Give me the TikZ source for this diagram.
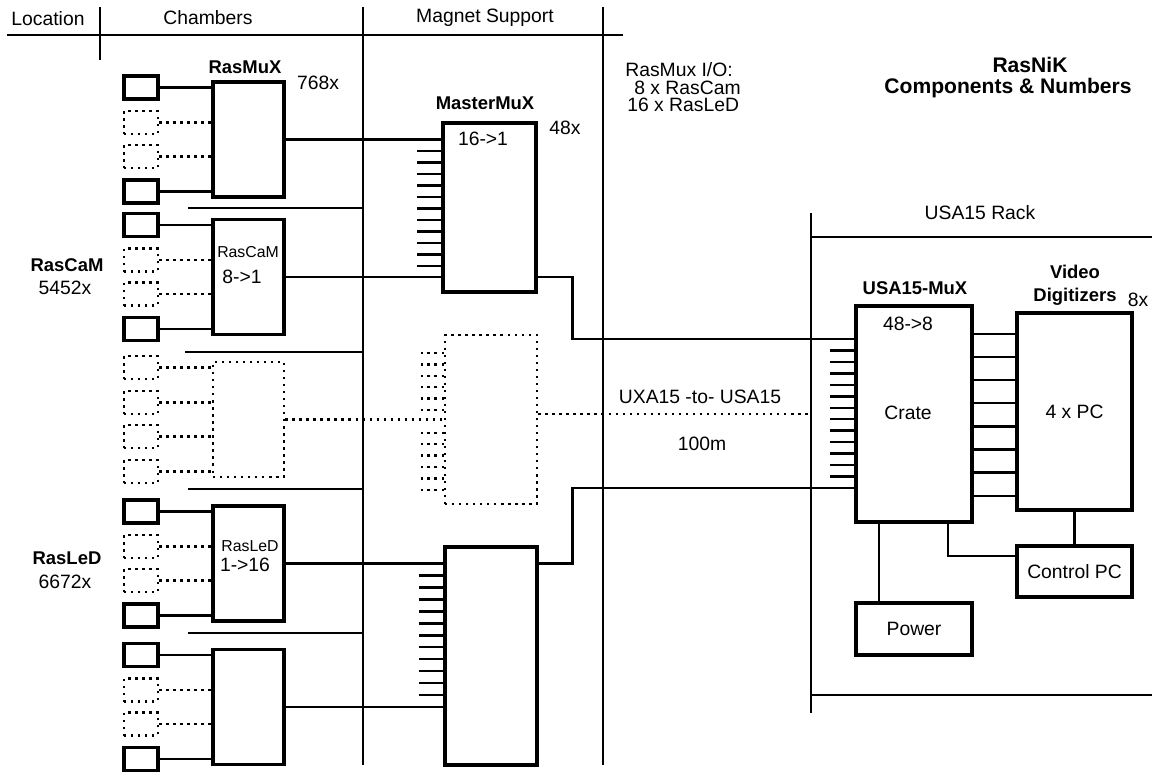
\documentclass[tikz,border=0pt]{standalone}
\usepackage{fontspec}
\setmainfont{Liberation Sans}
\usetikzlibrary{calc,positioning}

\tikzset{
  muxbox/.style={draw,line width=1.8pt,inner sep=0pt},
  ghostbox/.style={draw,line width=1.4pt,dash pattern=on 1.3pt off 2.7pt,inner sep=0pt},
  sensor/.style={draw,line width=2.2pt,inner sep=0pt,minimum width=0.68cm,minimum height=0.46cm},
  ghostsensor/.style={ghostbox,minimum width=0.68cm,minimum height=0.46cm},
  wire/.style={line width=1.3pt},
  dotwire/.style={line width=1.4pt,dash pattern=on 1.3pt off 2.7pt},
  stub/.style={line width=1.4pt},
  rule/.style={line width=1.3pt},
  txt/.style={inner sep=0pt,font=\fontsize{11}{13}\selectfont},
  smalltxt/.style={inner sep=0pt,font=\fontsize{9}{11}\selectfont},
  btxt/.style={inner sep=0pt,font=\bfseries\fontsize{10.5}{12}\selectfont},
  titletxt/.style={inner sep=0pt,font=\bfseries\fontsize{12}{14}\selectfont},
}

\begin{document}
\begin{tikzpicture}[x=0.02cm,y=-0.02cm]
\useasboundingbox (0,0) rectangle (1152,771);

% header and location rules
\draw[rule] (7,35) -- (623,35);
\draw[rule] (100,7) -- (100,60);
\draw[rule] (363,7) -- (363,765);
\draw[rule] (603,7) -- (603,765);
\node[txt] (hloc) at (48,19) {Location};
\node[txt] (hcha) at (208,18) {Chambers};
\node[txt] (hmag) at (485,18) {Magnet Support};
\foreach \y/\x in {208/188,352/185,489/188,633/188} \draw[rule] (\x,\y) -- (363,\y);

% chamber groups: RasMuX boxes with their cameras / LEDs
\foreach \g/\cy/\mst/\ost/\wst in {A/139.5/muxbox/sensor/wire, B/277/muxbox/sensor/wire,
    C/419.5/ghostbox/ghostsensor/dotwire, D/563.5/muxbox/sensor/wire, E/707/muxbox/sensor/wire} {
  \node[\mst,minimum width=1.42cm,minimum height=2.3cm] (mx\g) at (248.5,\cy) {};
  \foreach \k/\dy/\st/\w in {1/-52/\ost/\wst, 2/-17/ghostsensor/dotwire, 3/17/ghostsensor/dotwire, 4/52/\ost/\wst} {
    \node[\st] (s\g\k) at (141,\cy+\dy) {};
    \draw[\w] (s\g\k.east) -- (mx\g.west |- s\g\k.east);
  }
}
\node[btxt] (lmux) at (245,67) {RasMuX};
\node[txt] (nmux) at (318,83) {768x};
\node[smalltxt] (lcamin) at (248,252) {RasCaM};
\node[txt] (rcam) at (242,277) {8->1};
\node[smalltxt] (lledin) at (250,546) {RasLeD};
\node[txt] (rled) at (245,565) {1->16};
\node[btxt] (lcam) at (67,265) {RasCaM};
\node[txt] (ncam) at (65,288) {5452x};
\node[btxt] (lled) at (67,558) {RasLeD};
\node[txt] (nled) at (65,582) {6672x};

% MasterMuX on the magnet support
\node[muxbox,minimum width=1.86cm,minimum height=3.38cm] (mmA) at (489.5,207.5) {};
\node[ghostbox,minimum width=1.84cm,minimum height=3.38cm] (mmC) at (491,419.5) {};
\node[muxbox,minimum width=1.84cm,minimum height=4.36cm] (mmE) at (491,656) {};
\node[btxt] (lmm) at (485,103) {MasterMuX};
\node[txt] (rmm) at (483,139) {16->1};
\node[txt] (nmm) at (565,128) {48x};
\draw[wire] (mxA.east) -- (mmA.west |- mxA.east);
\draw[wire] (mxB.east) -- (mmA.west |- mxB.east);
\draw[dotwire] (mxC.east) -- (mmC.west |- mxC.east);
\draw[wire] (mxD.east) -- (mmE.west |- mxD.east);
\draw[wire] (mxE.east) -- (mmE.west |- mxE.east);
\foreach \k in {1,...,11} \draw[stub] (mmA.west |- 0,{139.5+11.5*\k}) -- ++(-24,0);
\foreach \k in {0,...,5,7,8,...,12} \draw[dotwire] (mmC.west |- 0,{353+11.4*\k}) -- ++(-23,0);
\foreach \k in {1,...,11} \draw[stub] (mmE.west |- 0,{563.5+11.96*\k}) -- ++(-24,0);

\node[txt,anchor=west] (io1) at (625,70) {RasMux I/O:};
\node[txt,anchor=west] (io2) at (634,88) {8 x RasCam};
\node[txt,anchor=west] (io3) at (627,105) {16 x RasLeD};
\node[titletxt] (ttl1) at (1030,65) {RasNiK};
\node[titletxt] (ttl2) at (1008,88) {Components \& Numbers};

% USA15 rack
\coordinate (rktop) at (811,213);
\coordinate (rkbot) at (811,713);
\draw[rule] (rktop) -- (rkbot);
\draw[rule] (rktop |- 0,237) -- (1152,237);
\draw[rule] (rkbot |- 0,695) -- (1152,695);
\node[txt] (lrack) at (980,213) {USA15 Rack};

\node[muxbox,minimum width=2.32cm,minimum height=4.32cm] (ux) at (914,414) {};
\node[muxbox,minimum width=2.3cm,minimum height=3.94cm] (dg) at (1074.5,411.5) {};
\node[muxbox,minimum width=2.3cm,minimum height=1.02cm] (cp) at (1074.5,571.5) {};
\node[muxbox,minimum width=2.32cm,minimum height=1.04cm] (pw) at (914,629) {};
\node[btxt] (lux) at (915,288) {USA15-MuX};
\node[txt] (rux) at (908,324) {48->8};
\node[txt] (crate) at (908,413) {Crate};
\node[btxt] (ldg1) at (1075,272) {Video};
\node[btxt] (ldg2) at (1075,297) {Digitizers};
\node[txt] (ndg) at (1138,300) {8x};
\node[txt] (pcs) at (dg) {4 x PC};
\node[txt] (lcp) at (cp) {Control PC};
\node[txt] (lpw) at (pw) {Power};

% UXA15 to USA15 cables
\draw[wire] (mmA.east |- mxB.east) -- ++(35,0) |- (ux.west |- 0,339);
\draw[dotwire] (mmC.east |- 0,414) -- (rktop |- 0,414);
\draw[wire] (mmE.east |- mxD.east) -- ++(34,0) |- (ux.west |- 0,488);
\node[txt] (lcab) at (700,397) {UXA15 -to- USA15};
\node[txt] (lcabl) at (702,444) {100m};

\foreach \k in {1,...,12} \draw[stub] (ux.west |- 0,{339+11.46*\k}) -- ++(-24,0);
\foreach \k in {0,...,7} \draw[wire] (ux.east |- 0,{334+23.1*\k}) -- (dg.west |- 0,{334+23.1*\k});
\draw[wire] (dg.south) -- (cp.north);
\draw[wire] (ux.south -| 948,0) |- (cp.west |- 0,556);
\draw[line width=0.6pt] (ux.south -| 879,0) -- (pw.north -| 879,0);
\end{tikzpicture}
\end{document}
